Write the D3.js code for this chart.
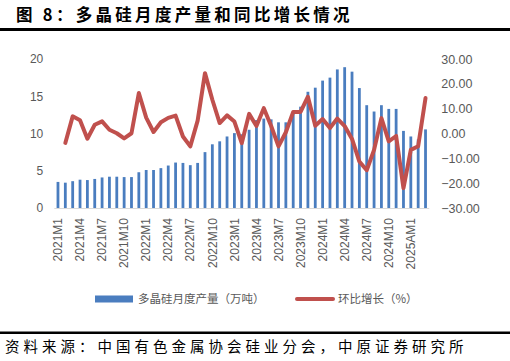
<!DOCTYPE html>
<html><head><meta charset="utf-8">
<script src="https://cdn.jsdelivr.net/npm/d3@7/dist/d3.min.js"></script>
<style>
html,body{margin:0;padding:0;background:#fff;}
svg{display:block;}
</style></head>
<body><svg id="c" width="510" height="361"></svg>
<script>
const categories = [
"2021M1","2021M2","2021M3","2021M4","2021M5","2021M6","2021M7","2021M8","2021M9","2021M10","2021M11","2021M12",
"2022M1","2022M2","2022M3","2022M4","2022M5","2022M6","2022M7","2022M8","2022M9","2022M10","2022M11","2022M12",
"2023M1","2023M2","2023M3","2023M4","2023M5","2023M6","2023M7","2023M8","2023M9","2023M10","2023M11","2023M12",
"2024M1","2024M2","2024M3","2024M4","2024M5","2024M6","2024M7","2024M8","2024M9","2024M10","2024M11","2024M12",
"2025AM1","2025M2","2025M3"];
const output = [3.5,3.4,3.6,3.8,3.75,3.9,4.1,4.2,4.2,4.15,4.15,4.8,
5.1,5.1,5.35,5.7,6.1,6.05,5.75,6.05,7.5,8.55,8.95,9.6,
10.05,9.9,10.5,11.8,12.0,11.9,11.5,11.5,12.7,13.6,15.6,16.15,
17.1,17.5,18.6,18.9,18.3,16.1,13.8,12.95,13.8,13.3,13.3,10.35,
9.6,9.2,10.55];
const growth = [null,-3.8,6.9,5.3,-2.1,3.5,4.9,1.5,0.1,-2.0,0.1,16.3,
6.4,0.6,4.5,6.3,7.2,-1.2,-5.2,5.2,24.3,13.6,4.2,7.3,
4.8,-3.9,7.9,3.0,10.2,3.0,-5.2,0.5,8.7,8.7,14.8,3.1,
5.8,2.2,6.0,3.0,-2.2,-11.3,-14.8,-6.6,6.2,-3.2,-1.0,-22.0,
-6.6,-5.1,14.3];
const leftTicks = [0,5,10,15,20];
const rightTicks = [-30,-20,-10,0,10,20,30];
const title = "图 8：多晶硅月度产量和同比增长情况";
const source = "资料来源：中国有色金属协会硅业分会，中原证券研究所";
const seriesNames = ["多晶硅月度产量（万吨）","环比增长（%）"];

const svg = d3.select("#c");
const fontLat = "'Liberation Sans', Arial, sans-serif";
const fontCJK = "'Noto Sans CJK SC', sans-serif";
const grey = "#595959";
const blue = "#4A7DBF", red = "#C0504D";

// title
svg.append("text").attr("x",16).attr("y",21).attr("font-family",fontCJK)
  .attr("font-weight","bold").attr("font-size",16.5).attr("letter-spacing",3.3)
  .attr("fill","#000").text(title);
svg.append("rect").attr("x",0).attr("y",28).attr("width",510).attr("height",3).attr("fill","#000");

const pTop = 59, pBottom = 208, pLeft = 54.3, pRight = 429.2;
const x = d3.scaleBand().domain(categories).range([pLeft,pRight]).paddingInner(0.62).paddingOuter(0.31);
const yL = d3.scaleLinear().domain([0,20]).range([pBottom,pTop]);
const yR = d3.scaleLinear().domain([-30,30]).range([pBottom,pTop]);
const cx = c => x(c) + x.bandwidth()/2;

// bars
svg.append("g").selectAll("rect").data(categories).join("rect")
  .attr("x",(d)=>x(d)).attr("width",x.bandwidth())
  .attr("y",(d,i)=>yL(output[i])).attr("height",(d,i)=>yL(0)-yL(output[i]))
  .attr("fill",blue);

// baseline
svg.append("line").attr("x1",pLeft).attr("x2",pRight).attr("y1",pBottom+0.5).attr("y2",pBottom+0.5)
  .attr("stroke","#d9d9d9").attr("stroke-width",1);

// line
const line = d3.line().defined(d=>d.v!==null).x(d=>cx(d.c)).y(d=>yR(d.v));
svg.append("path").datum(categories.map((c,i)=>({c:c,v:growth[i]})))
  .attr("d",line).attr("fill","none").attr("stroke",red).attr("stroke-width",4)
  .attr("stroke-linejoin","round").attr("stroke-linecap","round");

// left axis
const gL = svg.append("g").attr("transform",`translate(${pLeft-11},0)`)
  .call(d3.axisLeft(yL).tickValues(leftTicks).tickSize(0).tickPadding(0));
gL.select(".domain").remove();
gL.selectAll("text").attr("font-family",fontLat).attr("font-size",12).attr("fill",grey);

// right axis
const gR = svg.append("g").attr("transform",`translate(${pRight+12},0)`)
  .call(d3.axisRight(yR).tickValues(rightTicks).tickFormat(d3.format(".2f")).tickSize(0).tickPadding(0));
gR.select(".domain").remove();
gR.selectAll("text").attr("font-family",fontLat).attr("font-size",12.5).attr("fill",grey);

// bottom axis
const gB = svg.append("g").attr("transform",`translate(0,${pBottom})`)
  .call(d3.axisBottom(x).tickValues(categories.filter((d,i)=>i%3===0)).tickSize(0));
gB.select(".domain").remove();
gB.selectAll("text").attr("font-family",fontLat).attr("font-size",12).attr("fill",grey)
  .attr("transform","rotate(-90)").attr("text-anchor","end")
  .attr("x",-10).attr("y",0).attr("dy","0.35em");

// legend
const ly = 299;
svg.append("rect").attr("x",95).attr("y",ly-3.5).attr("width",38).attr("height",7).attr("fill",blue);
svg.append("text").attr("x",138).attr("y",ly).attr("dy","0.35em").attr("font-family",fontCJK)
  .attr("font-size",11.5).attr("fill",grey).text(seriesNames[0]);
svg.append("line").attr("x1",297).attr("x2",333).attr("y1",ly).attr("y2",ly)
  .attr("stroke",red).attr("stroke-width",4).attr("stroke-linecap","round");
svg.append("text").attr("x",338).attr("y",ly).attr("dy","0.35em").attr("font-family",fontCJK)
  .attr("font-size",11.5).attr("fill",grey).text(seriesNames[1]);

// footer
svg.append("rect").attr("x",0).attr("y",331.5).attr("width",510).attr("height",2.5).attr("fill","#000");
svg.append("text").attr("x",5).attr("y",352).attr("font-family",fontCJK)
  .attr("font-size",14.5).attr("letter-spacing",4.0).attr("fill","#000").text(source);
</script></body></html>
